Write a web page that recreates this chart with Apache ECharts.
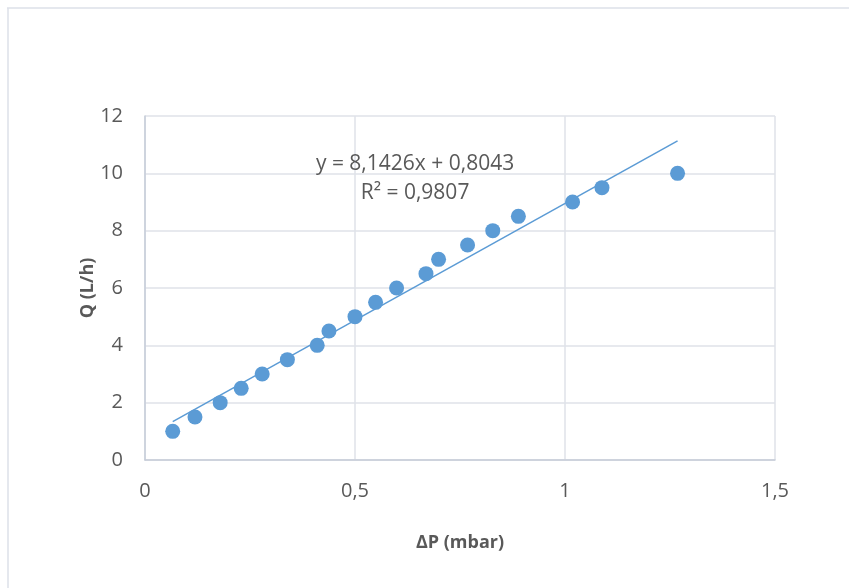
<!DOCTYPE html>
<html><head><meta charset="utf-8">
<script src="https://cdn.jsdelivr.net/npm/echarts@6/dist/echarts.min.js"></script>
<style>html,body{margin:0;padding:0;background:#fff}#c{width:849px;height:588px}</style>
</head><body><div id="c"></div>
<script>
const deltaP = [0.066, 0.119, 0.179, 0.229, 0.279, 0.339, 0.410, 0.438, 0.500, 0.549, 0.599, 0.669, 0.699, 0.768, 0.828, 0.889, 1.018, 1.088, 1.268];
const flowQ  = [1, 1.5, 2, 2.5, 3, 3.5, 4, 4.5, 5, 5.5, 6, 6.5, 7, 7.5, 8, 8.5, 9, 9.5, 10];
const trendSlope = 8.1426;
const trendIntercept = 0.8043;
const trendText = ['y = 8,1426x + 0,8043', 'R² = 0,9807'];
const xTitle = 'ΔP (mbar)';
const yTitle = 'Q (L/h)';

const points = deltaP.map((x, i) => [x, flowQ[i]]);
const xs = [deltaP[0], deltaP[deltaP.length - 1]];
const trend = xs.map(x => [x, trendSlope * x + trendIntercept]);
const fmt = v => String(v).replace('.', ',');
const font = '"Open Sans", "Noto Sans", sans-serif';
const txt = '#595959';

const chart = echarts.init(document.getElementById('c'), null, {renderer: 'canvas'});
chart.setOption({
  backgroundColor: '#fff',
  animation: false,
  textStyle: {fontFamily: font},
  grid: {left: 145, right: 74, top: 116, bottom: 128, containLabel: false},
  xAxis: {
    type: 'value', min: 0, max: 1.5, interval: 0.5,
    name: xTitle, nameLocation: 'middle', nameGap: 74,
    nameTextStyle: {fontSize: 18, fontWeight: 'bold', color: txt, fontFamily: font},
    axisLine: {show: true, lineStyle: {color: '#c6ccd8', width: 1.5}},
    axisTick: {show: false},
    axisLabel: {fontSize: 20, color: txt, margin: 21, formatter: fmt, fontFamily: font},
    splitLine: {show: true, lineStyle: {color: '#dfe2e8', width: 1.5}}
  },
  yAxis: {
    type: 'value', min: 0, max: 12, interval: 2,
    name: yTitle, nameLocation: 'middle', nameGap: 48, nameRotate: 90, nameMoveOverlap: false,
    nameTextStyle: {fontSize: 18, fontWeight: 'bold', color: txt, fontFamily: font},
    axisLine: {show: true, lineStyle: {color: '#c6ccd8', width: 1.5}},
    axisTick: {show: false},
    axisLabel: {fontSize: 20, color: txt, margin: 22, formatter: fmt, fontFamily: font},
    splitLine: {show: true, lineStyle: {color: '#dfe2e8', width: 1.5}}
  },
  graphic: [
    {type: 'line', shape: {x1: 7, y1: 8, x2: 849, y2: 8}, style: {stroke: '#dde1e8', lineWidth: 1.5}, silent: true},
    {type: 'line', shape: {x1: 8, y1: 8, x2: 8, y2: 588}, style: {stroke: '#dde1e8', lineWidth: 1.5}, silent: true}
  ],
  series: [
    {
      type: 'line', data: trend, symbol: 'none', z: 2,
      lineStyle: {color: '#5b9bd5', width: 1.5},
      markPoint: {
        symbol: 'rect', symbolSize: 0,
        label: {show: true, formatter: trendText.join('\n'), color: txt, fontSize: 21, lineHeight: 29, align: 'center', fontFamily: font},
        data: [{coord: [0.643, 9.82]}]
      }
    },
    {
      type: 'scatter', data: points, symbol: 'circle', symbolSize: 15, z: 3,
      itemStyle: {color: '#5b9bd5', opacity: 1}
    }
  ]
});
</script></body></html>
